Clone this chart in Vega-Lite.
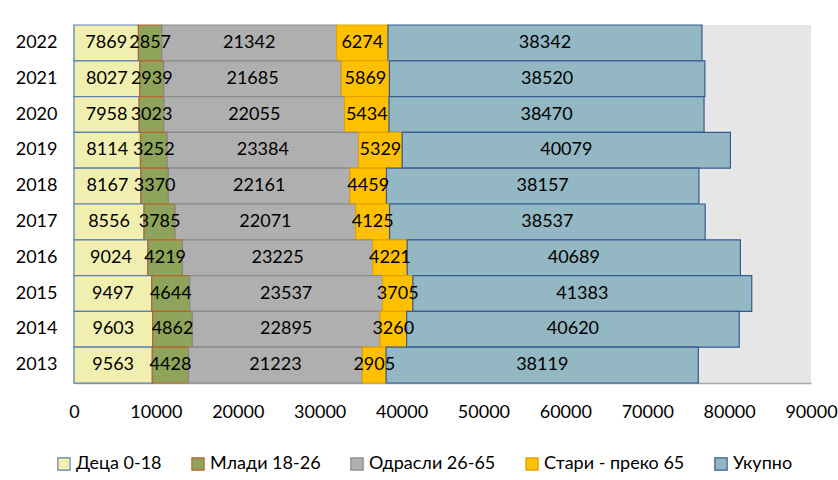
{
  "$schema": "https://vega.github.io/schema/vega-lite/v6.json",
  "autosize": "none",
  "width": 737,
  "height": 358,
  "padding": {"left": 74, "top": 25, "right": 27, "bottom": 97},
  "background": "white",
  "config": {
    "font": "Lato",
    "view": {"fill": "#e6e6e6", "stroke": null}
  },
  "data": {
    "values": [
      {"year": "2022", "category": "Деца 0-18", "value": 7869},
      {"year": "2022", "category": "Млади 18-26", "value": 2857},
      {"year": "2022", "category": "Одрасли 26-65", "value": 21342},
      {"year": "2022", "category": "Стари - преко 65", "value": 6274},
      {"year": "2022", "category": "Укупно", "value": 38342},
      {"year": "2021", "category": "Деца 0-18", "value": 8027},
      {"year": "2021", "category": "Млади 18-26", "value": 2939},
      {"year": "2021", "category": "Одрасли 26-65", "value": 21685},
      {"year": "2021", "category": "Стари - преко 65", "value": 5869},
      {"year": "2021", "category": "Укупно", "value": 38520},
      {"year": "2020", "category": "Деца 0-18", "value": 7958},
      {"year": "2020", "category": "Млади 18-26", "value": 3023},
      {"year": "2020", "category": "Одрасли 26-65", "value": 22055},
      {"year": "2020", "category": "Стари - преко 65", "value": 5434},
      {"year": "2020", "category": "Укупно", "value": 38470},
      {"year": "2019", "category": "Деца 0-18", "value": 8114},
      {"year": "2019", "category": "Млади 18-26", "value": 3252},
      {"year": "2019", "category": "Одрасли 26-65", "value": 23384},
      {"year": "2019", "category": "Стари - преко 65", "value": 5329},
      {"year": "2019", "category": "Укупно", "value": 40079},
      {"year": "2018", "category": "Деца 0-18", "value": 8167},
      {"year": "2018", "category": "Млади 18-26", "value": 3370},
      {"year": "2018", "category": "Одрасли 26-65", "value": 22161},
      {"year": "2018", "category": "Стари - преко 65", "value": 4459},
      {"year": "2018", "category": "Укупно", "value": 38157},
      {"year": "2017", "category": "Деца 0-18", "value": 8556},
      {"year": "2017", "category": "Млади 18-26", "value": 3785},
      {"year": "2017", "category": "Одрасли 26-65", "value": 22071},
      {"year": "2017", "category": "Стари - преко 65", "value": 4125},
      {"year": "2017", "category": "Укупно", "value": 38537},
      {"year": "2016", "category": "Деца 0-18", "value": 9024},
      {"year": "2016", "category": "Млади 18-26", "value": 4219},
      {"year": "2016", "category": "Одрасли 26-65", "value": 23225},
      {"year": "2016", "category": "Стари - преко 65", "value": 4221},
      {"year": "2016", "category": "Укупно", "value": 40689},
      {"year": "2015", "category": "Деца 0-18", "value": 9497},
      {"year": "2015", "category": "Млади 18-26", "value": 4644},
      {"year": "2015", "category": "Одрасли 26-65", "value": 23537},
      {"year": "2015", "category": "Стари - преко 65", "value": 3705},
      {"year": "2015", "category": "Укупно", "value": 41383},
      {"year": "2014", "category": "Деца 0-18", "value": 9603},
      {"year": "2014", "category": "Млади 18-26", "value": 4862},
      {"year": "2014", "category": "Одрасли 26-65", "value": 22895},
      {"year": "2014", "category": "Стари - преко 65", "value": 3260},
      {"year": "2014", "category": "Укупно", "value": 40620},
      {"year": "2013", "category": "Деца 0-18", "value": 9563},
      {"year": "2013", "category": "Млади 18-26", "value": 4428},
      {"year": "2013", "category": "Одрасли 26-65", "value": 21223},
      {"year": "2013", "category": "Стари - преко 65", "value": 2905},
      {"year": "2013", "category": "Укупно", "value": 38119}
    ]
  },
  "transform": [
    {"stack": "value", "groupby": ["year"], "sort": [{"field": "category", "order": "ascending"}], "as": ["v0", "v1"]}
  ],
  "encoding": {
    "y": {
      "field": "year", "type": "nominal", "sort": "descending",
      "scale": {"paddingInner": 0, "paddingOuter": 0},
      "axis": {"title": null, "ticks": false, "labelFontSize": 18, "labelPadding": 17, "labelColor": "#000000", "domainColor": "#a6a6a6", "domainWidth": 1.5}
    }
  },
  "layer": [
    {
      "mark": {"type": "bar", "strokeWidth": 1.2},
      "encoding": {
        "x": {
          "field": "v0", "type": "quantitative",
          "scale": {"domain": [0, 90000], "nice": false},
          "axis": {"title": null, "values": [0, 10000, 20000, 30000, 40000, 50000, 60000, 70000, 80000, 90000], "format": "d", "ticks": false, "grid": false, "labelFontSize": 18, "labelPadding": 20, "labelColor": "#000000", "labelFlush": false, "labelOverlap": false, "domainColor": "#a6a6a6", "domainWidth": 1.5}
        },
        "x2": {"field": "v1"},
        "fill": {
          "field": "category", "type": "nominal", "title": null,
          "scale": {"domain": ["Деца 0-18", "Млади 18-26", "Одрасли 26-65", "Стари - преко 65", "Укупно"], "range": ["#f0efb0", "#8ea45b", "#afafaf", "#ffc000", "#93b7c3"]},
          "legend": {"orient": "none", "legendX": -19, "legendY": 430, "direction": "horizontal", "title": null, "symbolType": "square", "symbolSize": 150, "symbolStrokeWidth": 1.2, "labelFontSize": 18, "labelColor": "#000000", "columnPadding": 27, "labelOffset": 3}
        },
        "stroke": {
          "field": "category", "type": "nominal", "title": null,
          "scale": {"domain": ["Деца 0-18", "Млади 18-26", "Одрасли 26-65", "Стари - преко 65", "Укупно"], "range": ["#5a7fb3", "#b8652e", "#8a8a8a", "#e0a400", "#365a94"]},
          "legend": {"orient": "none", "legendX": -19, "legendY": 430, "direction": "horizontal", "title": null, "symbolType": "square", "symbolSize": 150, "symbolStrokeWidth": 1.2, "labelFontSize": 18, "labelColor": "#000000", "columnPadding": 27, "labelOffset": 3}
        }
      }
    },
    {
      "transform": [
        {"fold": ["v0", "v1"], "as": ["edge", "pos"]},
        {"aggregate": [{"op": "mean", "field": "pos", "as": "mid"}, {"op": "max", "field": "value", "as": "label"}], "groupby": ["year", "category"]}
      ],
      "mark": {"type": "text", "fontSize": 18, "color": "#000000", "align": "center", "baseline": "middle"},
      "encoding": {
        "x": {"field": "mid", "type": "quantitative"},
        "text": {"field": "label", "type": "quantitative", "format": "d"}
      }
    }
  ]
}
